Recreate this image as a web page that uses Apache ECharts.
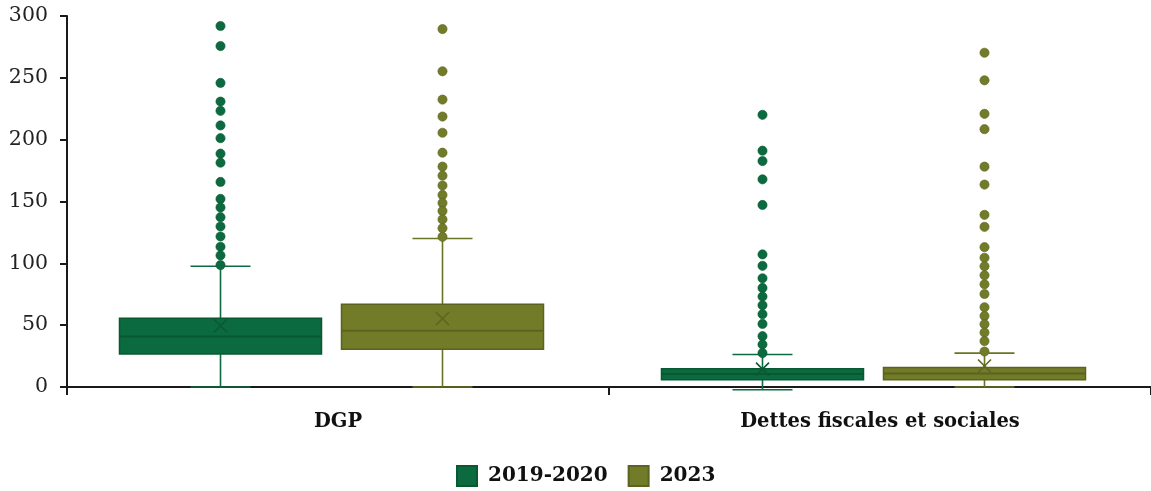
<!DOCTYPE html>
<html>
<head>
<meta charset="utf-8">
<script src="https://cdn.jsdelivr.net/npm/echarts@6/dist/echarts.min.js"></script>
<style>
  html, body { margin: 0; padding: 0; background: #ffffff; }
  #chart { width: 1151px; height: 491px; }
</style>
</head>
<body>
<div id="chart"></div>
<script>
// Categories and periods
const categories = ['DGP', 'Dettes fiscales et sociales'];
const periods = ['2019-2020', '2023'];

// Value axis range
const yMin = 0;
const yMax = 300;
const yStep = 50;

// Box summaries per category: [min, Q1, median, Q3, max, mean]
const stats2019 = [
  [0, 26.6, 40.8, 55.6, 97.6, 49.4],
  [-2.2, 5.9, 10.5, 14.8, 26.3, 14.5]
];
const stats2023 = [
  [0, 30.6, 45.4, 66.9, 120.1, 55.3],
  [0, 5.9, 11.0, 15.8, 27.4, 17.0]
];

// Outliers beyond the whiskers
const outliers2019DGP = [291.9, 275.7, 245.9, 230.8, 223.3, 211.5, 201.2, 188.7, 181.4, 165.8, 152.1, 145.1, 137.3, 129.8, 121.7, 113.4, 106.4, 98.6];
const outliers2019Dettes = [220.1, 191.1, 182.7, 167.9, 147.2, 107.2, 98.0, 87.9, 80.1, 73.1, 66.1, 58.9, 51.0, 41.1, 34.4, 27.4];
const outliers2023DGP = [289.4, 255.3, 232.4, 218.7, 205.6, 189.5, 178.2, 170.9, 162.9, 155.3, 148.8, 142.4, 135.5, 128.4, 121.4];
const outliers2023Dettes = [270.3, 248.0, 220.9, 208.5, 178.2, 163.7, 139.2, 129.5, 113.1, 104.5, 97.6, 90.3, 83.0, 75.2, 64.5, 57.5, 50.8, 44.0, 37.1, 28.7];

const FONT = '"DejaVu Serif", "Liberation Serif", serif';

const palette = {
  '2019-2020': { fill: '#0b6a40', border: '#08592f', whisker: '#0d6a41', mark: '#0a5a35', dot: '#0b6a40', shift: -0.2168 },
  '2023':      { fill: '#727b28', border: '#5b6321', whisker: '#6b7424', mark: '#5e6622', dot: '#727b28', shift: 0.1928 }
};
const BOX_RATIO = 0.3727;   // box width relative to the category band
const CAP_HALF = 30;        // half width of whisker caps (px)

function line(x1, y1, x2, y2, stroke, w) {
  return { type: 'line', shape: { x1, y1, x2, y2 }, style: { stroke, lineWidth: w } };
}

function boxRenderer(c) {
  return function (params, api) {
    const cat = api.value(0);
    const band = api.size([1, 0])[0];
    const cx = api.coord([cat, 0])[0] + c.shift * band;
    const half = BOX_RATIO * band / 2;
    const y = i => api.coord([cat, api.value(i)])[1];
    const yLo = y(1), yQ1 = y(2), yMed = y(3), yQ3 = y(4), yHi = y(5), yMean = y(6);
    const m = 6.5;
    return {
      type: 'group',
      children: [
        line(cx, yQ3, cx, yHi, c.whisker, 1.6),
        line(cx, yQ1, cx, yLo, c.whisker, 1.6),
        line(cx - CAP_HALF, yHi, cx + CAP_HALF, yHi, c.whisker, 1.6),
        line(cx - CAP_HALF, yLo, cx + CAP_HALF, yLo, c.whisker, 1.6),
        { type: 'rect', shape: { x: cx - half, y: yQ3, width: 2 * half, height: yQ1 - yQ3 },
          style: { fill: c.fill, stroke: c.border, lineWidth: 1.5 } },
        line(cx - half, yMed, cx + half, yMed, c.border, 2),
        line(cx - m, yMean - m, cx + m, yMean + m, c.mark, 1.6),
        line(cx - m, yMean + m, cx + m, yMean - m, c.mark, 1.6)
      ]
    };
  };
}

function dotRenderer(c) {
  return function (params, api) {
    const cat = api.value(0);
    const band = api.size([1, 0])[0];
    const p = api.coord([cat, api.value(1)]);
    return {
      type: 'circle',
      shape: { cx: p[0] + c.shift * band, cy: p[1], r: 4.6 },
      style: { fill: c.dot, stroke: c.border, lineWidth: 0.6 }
    };
  };
}

function boxSeries(name, stats) {
  const c = palette[name];
  return {
    name, type: 'custom', renderItem: boxRenderer(c),
    encode: { x: 0, y: [1, 2, 3, 4, 5, 6] },
    itemStyle: { color: c.fill, borderColor: c.border, borderWidth: 1 },
    data: stats.map((s, i) => [i].concat(s)),
    z: 2
  };
}

function dotSeries(name, lists) {
  const c = palette[name];
  const data = [];
  lists.forEach((vals, i) => vals.forEach(v => data.push([i, v])));
  return {
    name, type: 'custom', renderItem: dotRenderer(c),
    encode: { x: 0, y: 1 },
    itemStyle: { color: c.fill, borderColor: c.border, borderWidth: 1 },
    data,
    z: 3
  };
}

const chart = echarts.init(document.getElementById('chart'), null, { renderer: 'canvas' });

chart.setOption({
  backgroundColor: '#ffffff',
  animation: false,
  grid: { left: 67, right: 0, top: 16, bottom: 104, containLabel: false },
  legend: {
    data: periods,
    left: 456,
    top: 465,
    padding: 0,
    icon: 'rect',
    itemWidth: 20,
    itemHeight: 20,
    itemGap: 20,
    textStyle: { fontFamily: FONT, fontWeight: 'bold', fontSize: 20, color: '#111', padding: [0, 0, 0, 6] }
  },
  xAxis: {
    type: 'category',
    data: categories,
    boundaryGap: true,
    axisLine: { show: true, lineStyle: { color: '#1a1a1a', width: 2 } },
    axisTick: { show: true, length: 8, alignWithLabel: false, lineStyle: { color: '#1a1a1a', width: 2 } },
    axisLabel: { fontFamily: FONT, fontWeight: 'bold', fontSize: 19.5, color: '#111', margin: 25 },
    splitLine: { show: false }
  },
  yAxis: {
    type: 'value',
    min: yMin, max: yMax, interval: yStep,
    axisLine: { show: true, lineStyle: { color: '#1a1a1a', width: 2 } },
    axisTick: { show: true, length: 7, lineStyle: { color: '#1a1a1a', width: 2 } },
    axisLabel: { fontFamily: FONT, fontSize: 20.5, color: '#222', margin: 19 },
    splitLine: { show: false }
  },
  series: [
    boxSeries('2019-2020', stats2019),
    boxSeries('2023', stats2023),
    dotSeries('2019-2020', [outliers2019DGP, outliers2019Dettes]),
    dotSeries('2023', [outliers2023DGP, outliers2023Dettes])
  ]
});
</script>
</body>
</html>
